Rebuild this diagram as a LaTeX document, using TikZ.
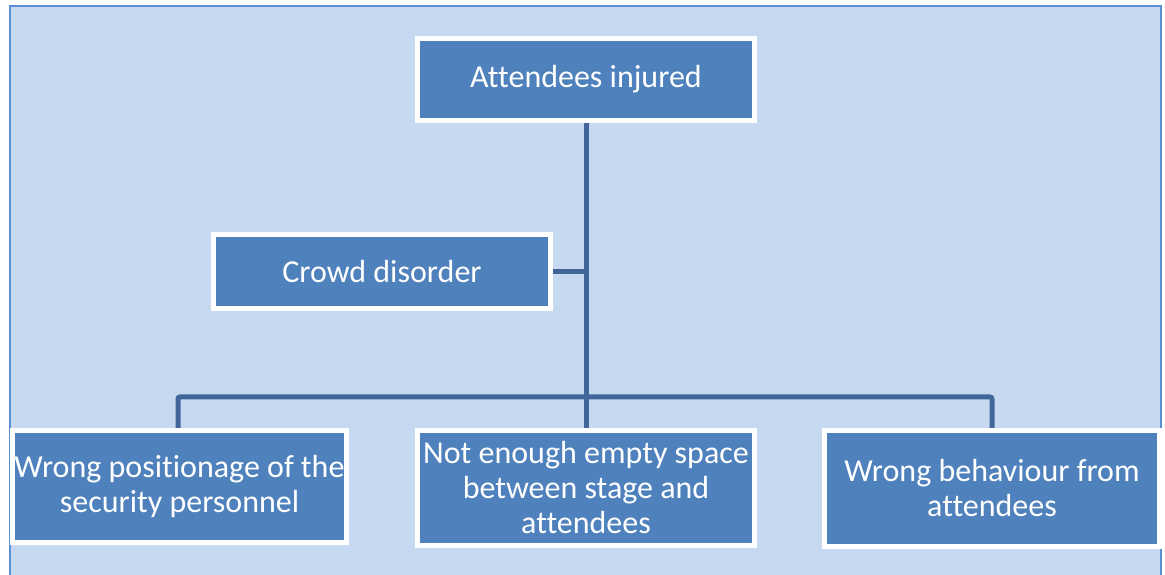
\documentclass[tikz,border=0pt]{standalone}
\usepackage{fontspec}
\setmainfont{Carlito}[RawFeature=-liga]
\usetikzlibrary{backgrounds}
\definecolor{bgfill}{HTML}{C6D9F1}
\definecolor{bgline}{HTML}{5B8FD4}
\definecolor{boxfill}{HTML}{4F81BD}
\definecolor{connc}{HTML}{41679A}
\tikzset{
  box/.style={draw=white, line width=5pt, fill=boxfill, text=white, align=center,
    inner sep=0pt, font=\fontsize{32}{35}\selectfont},
  conn/.style={draw=connc, line width=5pt, rounded corners=2pt}
}
\begin{document}
\begin{tikzpicture}[x=1pt,y=1pt]
\useasboundingbox (0,0) rectangle (1165,575);
\node[box, minimum width=337pt, minimum height=82pt] (top) at (586,495.5) {Attendees injured};
\node[box, minimum width=337pt, minimum height=74pt] (crowd) at (382,303.5) {Crowd disorder};
\node[box, minimum width=334pt, minimum height=112pt] (bl) at (179.5,88.5) {Wrong positionage of the\\security personnel};
\node[box, minimum width=337pt, minimum height=115pt] (mid) at (586,87) {Not enough empty space\\between stage and\\attendees};
\node[box, minimum width=335pt, minimum height=116pt] (rt) at (992,86.5) {Wrong behaviour from\\attendees};
\coordinate (bus) at (586,178);
\begin{scope}[on background layer]
  \fill[white] (0,0) rectangle (1165,575);
  \fill[bgfill] (9.5,-5) rectangle (1160.5,569);
  \draw[bgline, line width=2pt] (9.5,-5) -- (9.5,569) -- (1160.5,569) -- (1160.5,-5);
  \draw[conn] (top.south) -- (top.south |- mid.north);
  \draw[conn] (crowd.east) -- (crowd.east -| top.south);
  \draw[conn] ([xshift=-1.5pt]bl.north) |- (bus) -| (rt.north);
\end{scope}
\end{tikzpicture}
\end{document}
